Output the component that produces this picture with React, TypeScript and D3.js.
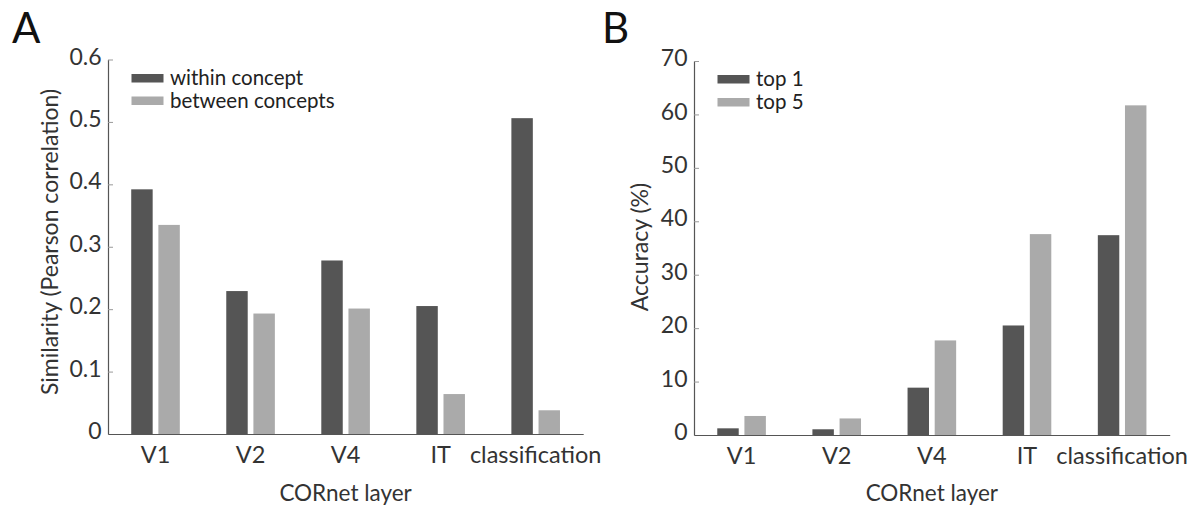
import { useEffect, useRef } from "react"
import * as d3 from "d3"

const layers = ["V1", "V2", "V4", "IT", "classification"]

// panel A: similarity
const withinConcept = [0.392, 0.229, 0.278, 0.205, 0.506]
const betweenConcepts = [0.335, 0.193, 0.201, 0.064, 0.038]
const simTicks = [0, 0.1, 0.2, 0.3, 0.4, 0.5, 0.6]

// panel B: accuracy
const top1 = [1.25, 1.07, 8.86, 20.5, 37.4]
const top5 = [3.56, 3.1, 17.7, 37.6, 61.7]
const accTicks = [0, 10, 20, 30, 40, 50, 60, 70]

const DARK = "#555555"
const LIGHT = "#aaaaaa"
const FONT = "Lato, 'Open Sans', sans-serif"

interface PanelProps {
  letter: string
  letterX: number
  left: number
  right: number
  top: number
  bottom: number
  yMax: number
  ticks: number[]
  tickFormat: (v: number) => string
  seriesNames: string[]
  series: number[][]
  yLabel: string
  yLabelX: number
  yLabelY: number
  legendY: number[]
}

function Panel({
  letter,
  letterX,
  left,
  right,
  top,
  bottom,
  yMax,
  ticks,
  tickFormat,
  seriesNames,
  series,
  yLabel,
  yLabelX,
  yLabelY,
  legendY,
}: PanelProps) {
  const gRef = useRef<SVGGElement>(null)

  const x0 = d3.scaleBand<string>().domain(layers).range([left, right]).padding(0)
  const x1 = d3.scaleBand<string>().domain(seriesNames).range([-24.3, 24.3]).paddingInner(0.21)
  const y = d3.scaleLinear().domain([0, yMax]).range([bottom, top])
  const colors = [DARK, LIGHT]

  useEffect(() => {
    if (!gRef.current) return
    const g = d3.select(gRef.current)
    g.selectAll("*").remove()

    // ticks point inwards, labels sit a little above the tick
    const yAxis = g
      .append("g")
      .attr("transform", `translate(${left},0)`)
      .call(
        d3
          .axisLeft(y)
          .tickValues(ticks)
          .tickSize(-5)
          .tickSizeOuter(0)
          .tickPadding(6.5)
          .tickFormat((d) => tickFormat(d as number)),
      )
    yAxis.select(".domain").attr("stroke", "#555").attr("stroke-width", 1.2)
    yAxis.selectAll(".tick line").attr("stroke", "#999")
    yAxis
      .selectAll("text")
      .attr("fill", "#333")
      .attr("dy", "0.2em")
      .style("font-family", FONT)
      .style("font-size", "23px")

    const xAxis = g
      .append("g")
      .attr("transform", `translate(0,${bottom})`)
      .call(d3.axisBottom(x0).tickSize(0).tickSizeOuter(0).tickPadding(12))
    xAxis.select(".domain").attr("stroke", "#555").attr("stroke-width", 1.2)
    xAxis
      .selectAll("text")
      .attr("fill", "#333")
      .style("font-family", FONT)
      .style("font-size", "23.5px")
  }, [])

  return (
    <g>
      <text x={letterX} y={43} fontFamily={FONT} fontSize={42} fill="#111">
        {letter}
      </text>
      {layers.map((layer, i) => (
        <g key={layer} transform={`translate(${(x0(layer) ?? 0) + x0.bandwidth() / 2},0)`}>
          {seriesNames.map((s, j) => (
            <rect
              key={s}
              x={x1(s)}
              y={y(series[j][i])}
              width={x1.bandwidth()}
              height={bottom - y(series[j][i])}
              fill={colors[j]}
            />
          ))}
        </g>
      ))}
      <g ref={gRef} />
      {seriesNames.map((s, j) => (
        <g key={s}>
          <rect x={left + 23.5} y={legendY[j]} width={32} height={8.5} fill={colors[j]} />
          <text
            x={left + 62}
            y={legendY[j] + 11}
            fontFamily={FONT}
            fontSize={20.5}
            fill="#222"
          >
            {s}
          </text>
        </g>
      ))}
      <text
        x={(left + right) / 2}
        y={501}
        textAnchor="middle"
        fontFamily={FONT}
        fontSize={22.5}
        fill="#333"
      >
        CORnet layer
      </text>
      <text
        transform={`translate(${yLabelX},${yLabelY}) rotate(-90)`}
        textAnchor="middle"
        fontFamily={FONT}
        fontSize={23}
        fill="#333"
      >
        {yLabel}
      </text>
    </g>
  )
}

export default function App() {
  return (
    <svg
      width={1198}
      height={507}
      style={{ position: "absolute", left: 0, top: 0, background: "#fff" }}
    >
      <Panel
        letter="A"
        letterX={12}
        left={108}
        right={583.2}
        top={59.5}
        bottom={434}
        yMax={0.6}
        ticks={simTicks}
        tickFormat={(v) => (v === 0 ? "0" : d3.format(".1f")(v))}
        seriesNames={["within concept", "between concepts"]}
        series={[withinConcept, betweenConcepts]}
        yLabel="Similarity (Pearson correlation)"
        yLabelX={58}
        yLabelY={242}
        legendY={[74, 96.5]}
      />
      <Panel
        letter="B"
        letterX={602}
        left={694}
        right={1169.7}
        top={61}
        bottom={435}
        yMax={70}
        ticks={accTicks}
        tickFormat={(v) => String(v)}
        seriesNames={["top 1", "top 5"]}
        series={[top1, top5]}
        yLabel="Accuracy (%)"
        yLabelX={648}
        yLabelY={247}
        legendY={[75, 98]}
      />
    </svg>
  )
}
